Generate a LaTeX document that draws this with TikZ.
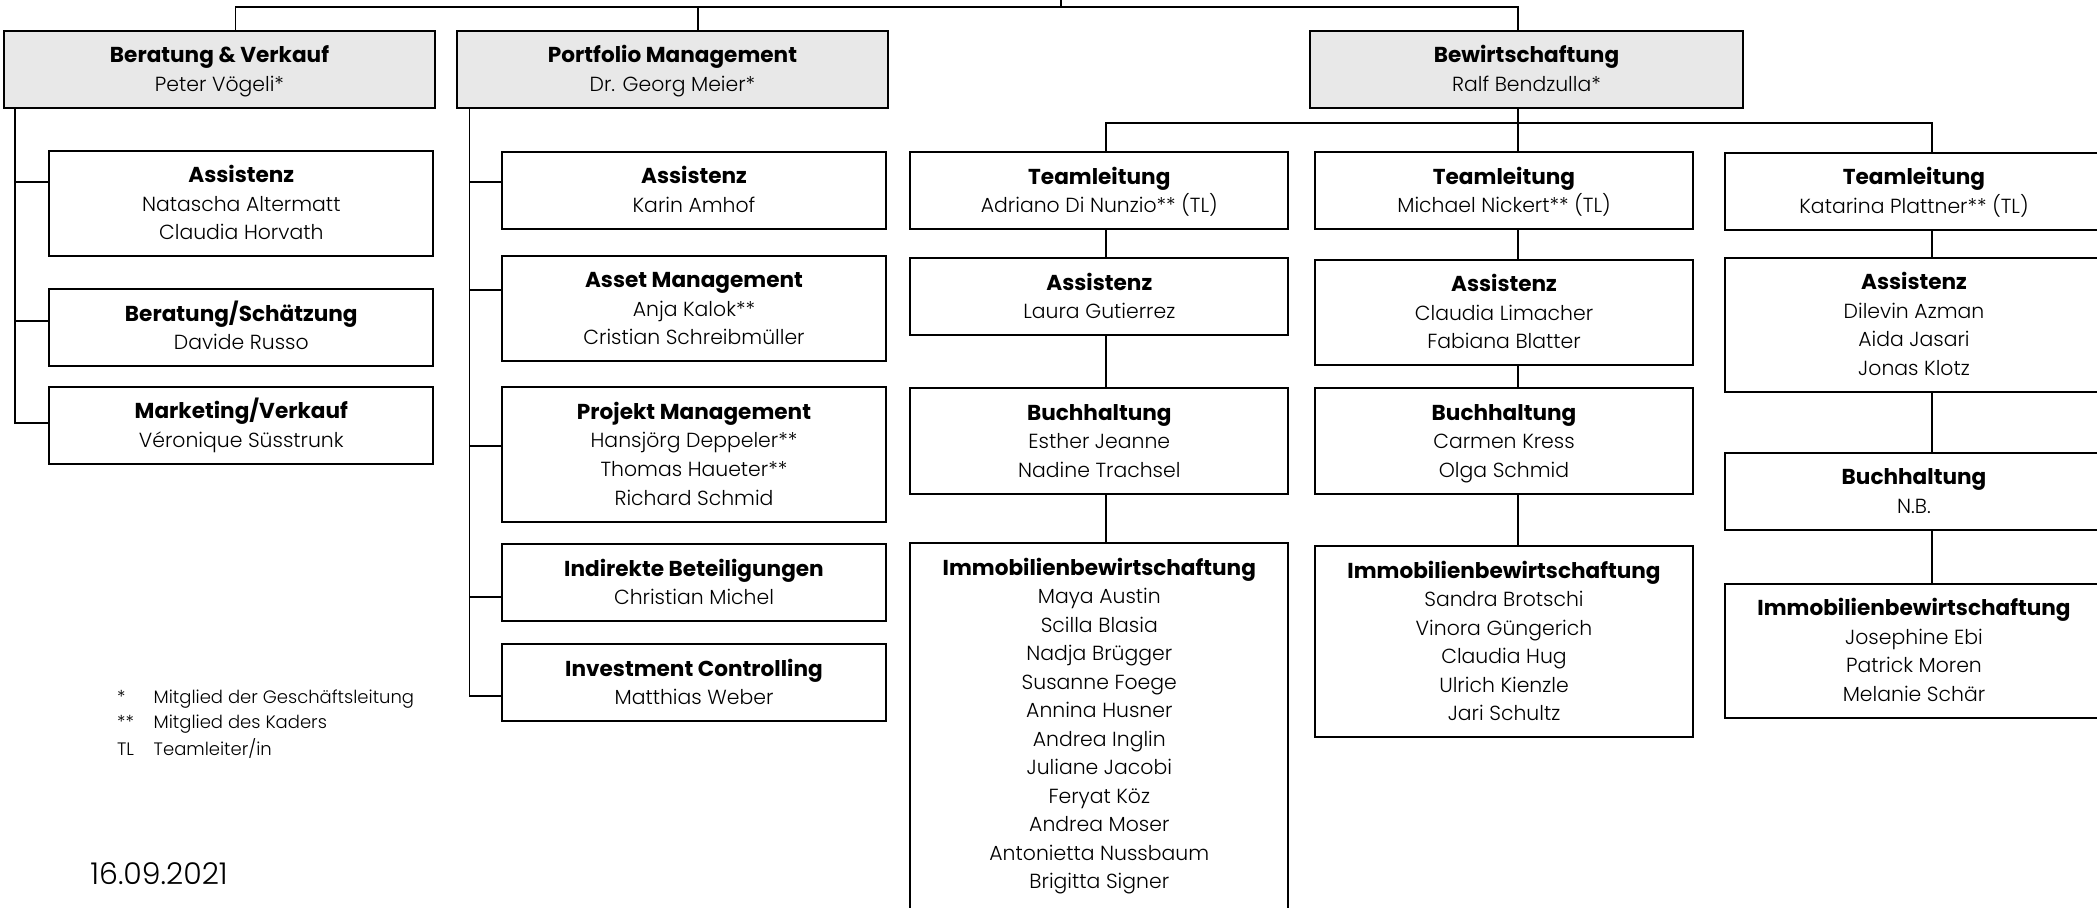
\documentclass[tikz,border=0pt]{standalone}
\usepackage{fontspec}
\setmainfont{Poppins}[UprightFont=* Light, BoldFont=* Bold]
\definecolor{headgray}{HTML}{E8E8E8}
\newcommand{\tfont}{\fontsize{10.8}{14.25}\selectfont\bfseries}
\newcommand{\nfont}{\fontsize{10.2}{14.25}\selectfont}
\newcommand{\ob}[2]{\rule{0pt}{16pt}{\tfont #1}#2\rule[-8.25pt]{0pt}{8.25pt}}
\newcommand{\obl}[2]{\rule{0pt}{16pt}{\tfont #1}#2\rule[-11pt]{0pt}{11pt}}
\begin{document}
\begin{tikzpicture}[x=0.5pt,y=-0.5pt,
  box/.style={draw=black, line width=1pt, fill=white, anchor=north west,
    inner xsep=0pt, inner ysep=0pt, align=center, font=\nfont},
  headbox/.style={box, fill=headgray, minimum width=215.5pt},
  lbox/.style={box, minimum width=192pt},
  cbox/.style={box, minimum width=189pt},
  conn/.style={draw=black, line width=0.9pt},
  thinconn/.style={draw=black, line width=0.7pt},
  legend/.style={anchor=base west, inner sep=0pt, font=\fontsize{9}{12}\selectfont}]
\useasboundingbox (0,0) rectangle (2097,908);
% top level
\node[headbox] (bv) at (3,30) {\ob{Beratung \& Verkauf}{\\Peter Vögeli*}};
\node[headbox] (pm) at (456,30) {\ob{Portfolio Management}{\\Dr. Georg Meier*}};
\node[headbox, minimum width=216.5pt] (bew) at (1309,30) {\ob{Bewirtschaftung}{\\Ralf Bendzulla*}};
% Beratung & Verkauf
\node[lbox] (la) at (48.3,150) {\ob{Assistenz}{\\Natascha Altermatt\\Claudia Horvath}};
\node[lbox] (lb) at (48.3,288.2) {\ob{Beratung/Schätzung}{\\Davide Russo}};
\node[lbox] (lc) at (48.3,385.7) {\ob{Marketing/Verkauf}{\\Véronique Süsstrunk}};
% Portfolio Management
\node[lbox] (pa) at (501,150.6) {\ob{Assistenz}{\\Karin Amhof}};
\node[lbox] (pb) at (501,255) {\ob{Asset Management}{\\Anja Kalok**\\Cristian Schreibmüller}};
\node[lbox] (pc) at (501,386.5) {\ob{Projekt Management}{\\Hansjörg Deppeler**\\Thomas Haueter**\\Richard Schmid}};
\node[lbox] (pd) at (501,543) {\ob{Indirekte Beteiligungen}{\\Christian Michel}};
\node[lbox] (pe) at (501,643) {\ob{Investment Controlling}{\\Matthias Weber}};
% Bewirtschaftung column 1
\node[cbox] (at1) at (909.3,151.5) {\ob{Teamleitung}{\\Adriano Di Nunzio** (TL)}};
\node[cbox] (aa1) at (909.3,257.2) {\ob{Assistenz}{\\Laura Gutierrez}};
\node[cbox] (ab1) at (909.3,387.1) {\ob{Buchhaltung}{\\Esther Jeanne\\Nadine Trachsel}};
\node[cbox] (ai1) at (909.3,542.3) {\obl{Immobilienbewirtschaftung}{\\Maya Austin\\Scilla Blasia\\Nadja Brügger\\Susanne Foege\\Annina Husner\\Andrea Inglin\\Juliane Jacobi\\Feryat Köz\\Andrea Moser\\Antonietta Nussbaum\\Brigitta Signer}};
% column 2
\node[cbox] (bt) at (1314,151.3) {\ob{Teamleitung}{\\Michael Nickert** (TL)}};
\node[cbox] (ba) at (1314,258.7) {\ob{Assistenz}{\\Claudia Limacher\\Fabiana Blatter}};
\node[cbox] (bb) at (1314,387.5) {\ob{Buchhaltung}{\\Carmen Kress\\Olga Schmid}};
\node[cbox] (bi) at (1314,545.3) {\ob{Immobilienbewirtschaftung}{\\Sandra Brotschi\\Vinora Güngerich\\Claudia Hug\\Ulrich Kienzle\\Jari Schultz}};
% column 3
\node[cbox] (ct) at (1724,151.9) {\ob{Teamleitung}{\\Katarina Plattner** (TL)}};
\node[cbox] (ca) at (1724,256.8) {\ob{Assistenz}{\\Dilevin Azman\\Aida Jasari\\Jonas Klotz}};
\node[cbox] (cb) at (1724,451.9) {\ob{Buchhaltung}{\\N.B.}};
\node[cbox] (ci) at (1724,582.6) {\ob{Immobilienbewirtschaftung}{\\Josephine Ebi\\Patrick Moren\\Melanie Schär}};
% top connectors
\coordinate (tp) at (1060.6,0);
\coordinate (hl) at (235.4,7);
\coordinate (hm) at (697.7,7);
\coordinate (hr) at (1518,7);
\draw[conn] (hl |- bv.north) -- (hl) -- (hr) -- (hr |- bew.north);
\draw[conn] (hm) -- (hm |- pm.north);
\draw[conn] (tp) -- (tp |- hl);
% left branch
\coordinate (lv) at (15,423);
\coordinate (lya) at (15,182.3);
\coordinate (lyb) at (15,320.8);
\draw[conn] (lv |- bv.south) -- (lv) -- (lv -| lc.west);
\draw[conn] (lya) -- (lya -| la.west);
\draw[conn] (lyb) -- (lyb -| lb.west);
% portfolio branch
\coordinate (pv) at (469.4,696);
\coordinate (pya) at (469.4,182);
\coordinate (pyb) at (469.4,289.7);
\coordinate (pyc) at (469.4,446.4);
\coordinate (pyd) at (469.4,597.3);
\draw[conn] (pv |- pm.south) -- (pv) -- (pv -| pe.west);
\draw[conn] (pya) -- (pya -| pa.west);
\draw[conn] (pyb) -- (pyb -| pb.west);
\draw[conn] (pyc) -- (pyc -| pc.west);
\draw[conn] (pyd) -- (pyd -| pd.west);
% Bewirtschaftung branch
\coordinate (bh1) at (1106,123);
\coordinate (bh3) at (1932,123);
\draw[conn] (bh1 |- at1.north) -- (bh1) -- (bh3) -- (bh3 |- ct.north);
\draw[conn] (hr |- bew.south) -- (hr |- bt.north);
\draw[thinconn] (at1.south -| bh1) -- (aa1.north -| bh1);
\draw[thinconn] (aa1.south -| bh1) -- (ab1.north -| bh1);
\draw[thinconn] (ab1.south -| bh1) -- (ai1.north -| bh1);
\draw[thinconn] (bt.south -| hr) -- (ba.north -| hr);
\draw[thinconn] (ba.south -| hr) -- (bb.north -| hr);
\draw[thinconn] (bb.south -| hr) -- (bi.north -| hr);
\draw[thinconn] (ct.south -| bh3) -- (ca.north -| bh3);
\draw[thinconn] (ca.south -| bh3) -- (cb.north -| bh3);
\draw[thinconn] (cb.south -| bh3) -- (ci.north -| bh3);
% legend
\node[legend] (s1) at (116.7,703.3) {*};
\node[legend] (s2) at (116.7,728.3) {**};
\node[legend] (s3) at (116.7,755) {TL};
\node[legend] (t1) at (153.3,703.3) {Mitglied der Geschäftsleitung};
\node[legend] (t2) at (153.3,728.3) {Mitglied des Kaders};
\node[legend] (t3) at (153.3,755) {Teamleiter/in};
\node[anchor=base west, inner sep=0pt, font=\fontsize{15}{17}\selectfont] (date) at (90,884) {16.09.2021};
\end{tikzpicture}
\end{document}
